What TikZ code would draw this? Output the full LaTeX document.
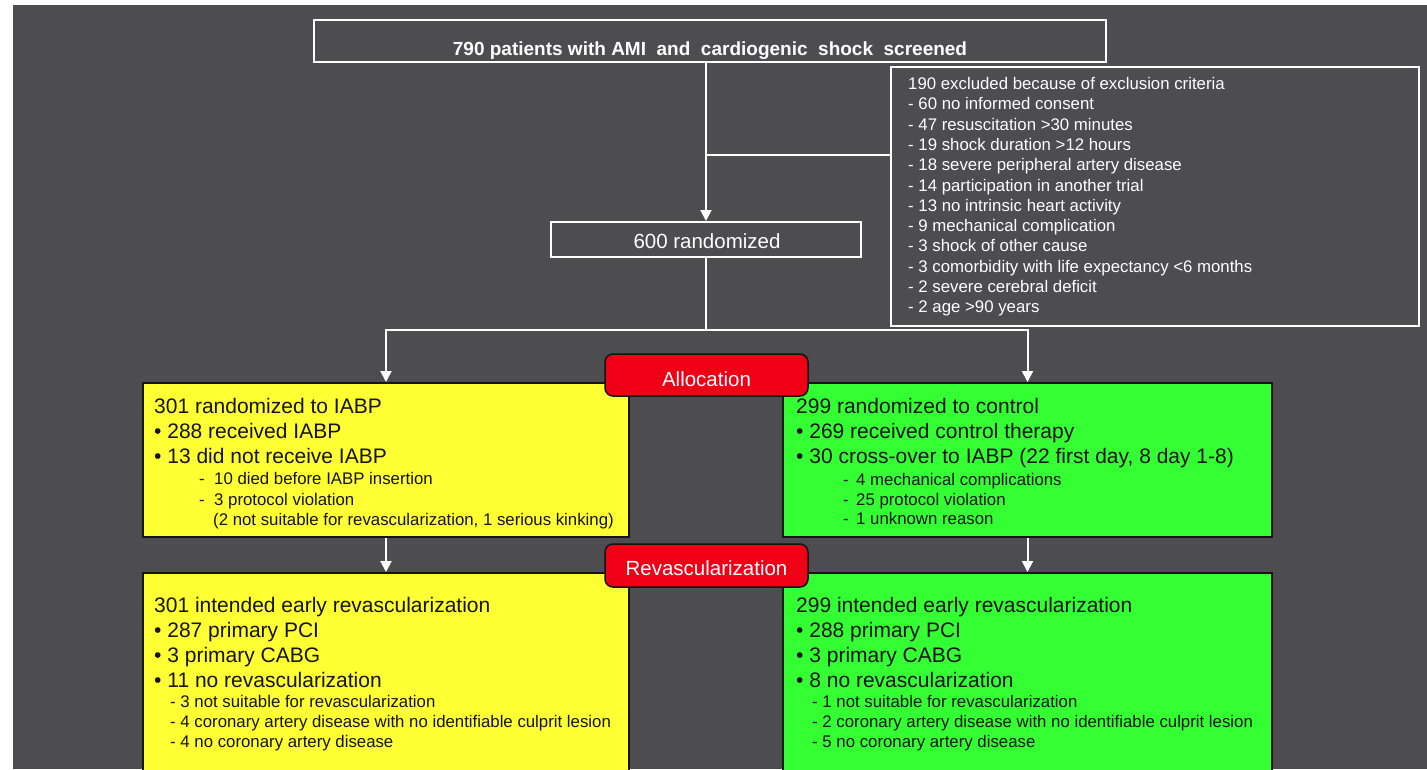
\documentclass[tikz,border=0pt]{standalone}
\usepackage{fontspec}
\setmainfont{Liberation Sans}
\usetikzlibrary{arrows.meta}
\definecolor{bgc}{RGB}{77,77,79}
\definecolor{yfill}{RGB}{255,255,51}
\definecolor{gfill}{RGB}{51,255,51}
\definecolor{rfill}{RGB}{240,0,20}
\definecolor{ink}{RGB}{20,20,20}
\begin{document}
\begin{tikzpicture}[x=1pt,y=-1pt,
  wbox/.style={draw=white, line width=2pt, inner sep=0pt},
  cbox/.style={draw=ink, line width=2pt, inner sep=0pt},
  redbox/.style={fill=rfill, draw=ink, line width=1.5pt, rounded corners=8pt, inner sep=0pt,
    minimum width=203pt, minimum height=42pt},
  conn/.style={draw=white, line width=2pt},
  arr/.style={conn, -{Triangle[width=11pt,length=11pt]}},
  big/.style={anchor=base west, inner sep=0pt, font=\fontsize{21}{25}\selectfont, text=ink},
  small/.style={anchor=base west, inner sep=0pt, font=\fontsize{16.8}{20}\selectfont, text=ink},
  excl/.style={anchor=base west, inner sep=0pt, font=\fontsize{16.8}{20}\selectfont, text=white},
  redtxt/.style={anchor=base, inner sep=0pt, font=\fontsize{20.5}{24}\selectfont, text=white}
]
\useasboundingbox (0,0) rectangle (1427,769);
\clip (0,0) rectangle (1427,769);
\fill[white] (0,0) rectangle (1427,769);
\fill[bgc] (13,5) rectangle (1427,769);

% top and side boxes
\node[wbox, minimum width=792pt, minimum height=42pt] (screen) at (710,41) {};
\node[anchor=base, inner sep=0pt, text=white, font=\bfseries\fontsize{19}{22}\selectfont] (screentxt) at (710,55)
  {790 patients with AMI\ \ and\ \ cardiogenic\ \ shock\ \ screened};
\node[wbox, minimum width=528pt, minimum height=259pt] (excl) at (1155,196.5) {};
\node[wbox, minimum width=310pt, minimum height=35pt] (rand) at (706,239.5) {};
\node[anchor=base, inner sep=0pt, text=white, font=\fontsize{20.5}{24}\selectfont] (randtxt) at (707,248) {600 randomized};

\node[excl] (e1) at (908,89.5) {190 excluded because of exclusion criteria};
\node[excl] (e2) at (908,109.8) {- 60 no informed consent};
\node[excl] (e3) at (908,130.1) {- 47 resuscitation >30 minutes};
\node[excl] (e4) at (908,150.4) {- 19 shock duration >12 hours};
\node[excl] (e5) at (908,170.7) {- 18 severe peripheral artery disease};
\node[excl] (e6) at (908,191.0) {- 14 participation in another trial};
\node[excl] (e7) at (908,211.3) {- 13 no intrinsic heart activity};
\node[excl] (e8) at (908,231.6) {- 9 mechanical complication};
\node[excl] (e9) at (908,251.9) {- 3 shock of other cause};
\node[excl] (e10) at (908,272.2) {- 3 comorbidity with life expectancy <6 months};
\node[excl] (e11) at (908,292.5) {- 2 severe cerebral deficit};
\node[excl] (e12) at (908,312.8) {- 2 age >90 years};

% coloured boxes
\node[cbox, fill=yfill, minimum width=486pt, minimum height=154pt] (iabp) at (386,460) {};
\node[cbox, fill=gfill, minimum width=489pt, minimum height=154pt] (ctrl) at (1027.5,460) {};
\node[cbox, fill=yfill, minimum width=486pt, minimum height=204pt] (iabprev) at (386,675) {};
\node[cbox, fill=gfill, minimum width=489pt, minimum height=204pt] (ctrlrev) at (1027.5,675) {};

% connectors
\coordinate (j1) at (706,155);
\coordinate (split) at (706,330);
\draw[arr] (rand.north |- screen.south) -- (rand.north);
\draw[conn] (j1) -- (j1 -| excl.west);
\draw[conn] (rand.south) -- (split);
\draw[arr] (split) -| (iabp.north);
\draw[arr] (split) -| (ctrl.north);
\draw[arr] (iabp.south) -- (iabprev.north);
\draw[arr] (ctrl.south) -- (ctrlrev.north);

% red labels
\node[redbox] (alloc) at (706.5,375) {};
\node[redtxt] (alloctxt) at (706.5,386) {Allocation};
\node[redbox, minimum height=43pt] (revasc) at (706.5,565.5) {};
\node[redtxt] (revasctxt) at (706.5,575) {Revascularization};

% IABP allocation text
\node[big] (y1) at (154,413) {301 randomized to IABP};
\node[big] (y2) at (154,438) {\textbullet\ 288 received IABP};
\node[big] (y3) at (154,463) {\textbullet\ 13 did not receive IABP};
\node[small] (y4) at (199,484) {\makebox[15pt][l]{-}10 died before IABP insertion};
\node[small] (y5) at (199,505) {\makebox[15pt][l]{-}3 protocol violation};
\node[small] (y6) at (213,525) {(2 not suitable for revascularization, 1 serious kinking)};

% control allocation text
\node[big] (g1) at (796,413) {299 randomized to control};
\node[big] (g2) at (796,438) {\textbullet\ 269 received control therapy};
\node[big] (g3) at (796,463) {\textbullet\ 30 cross-over to IABP (22 first day, 8 day 1-8)};
\node[small] (g4) at (843,485) {\makebox[13pt][l]{-}4 mechanical complications};
\node[small] (g5) at (843,505) {\makebox[13pt][l]{-}25 protocol violation};
\node[small] (g6) at (843,524) {\makebox[13pt][l]{-}1 unknown reason};

% IABP revascularization text
\node[big] (yr1) at (154,612) {301 intended early revascularization};
\node[big] (yr2) at (154,637) {\textbullet\ 287 primary PCI};
\node[big] (yr3) at (154,662) {\textbullet\ 3 primary CABG};
\node[big] (yr4) at (154,687) {\textbullet\ 11 no revascularization};
\node[small] (yr5) at (170,707) {- 3 not suitable for revascularization};
\node[small] (yr6) at (170,727) {- 4 coronary artery disease with no identifiable culprit lesion};
\node[small] (yr7) at (170,747) {- 4 no coronary artery disease};

% control revascularization text
\node[big] (gr1) at (796,612) {299 intended early revascularization};
\node[big] (gr2) at (796,637) {\textbullet\ 288 primary PCI};
\node[big] (gr3) at (796,662) {\textbullet\ 3 primary CABG};
\node[big] (gr4) at (796,687) {\textbullet\ 8 no revascularization};
\node[small] (gr5) at (812,707) {- 1 not suitable for revascularization};
\node[small] (gr6) at (812,727) {- 2 coronary artery disease with no identifiable culprit lesion};
\node[small] (gr7) at (812,747) {- 5 no coronary artery disease};
\end{tikzpicture}
\end{document}
